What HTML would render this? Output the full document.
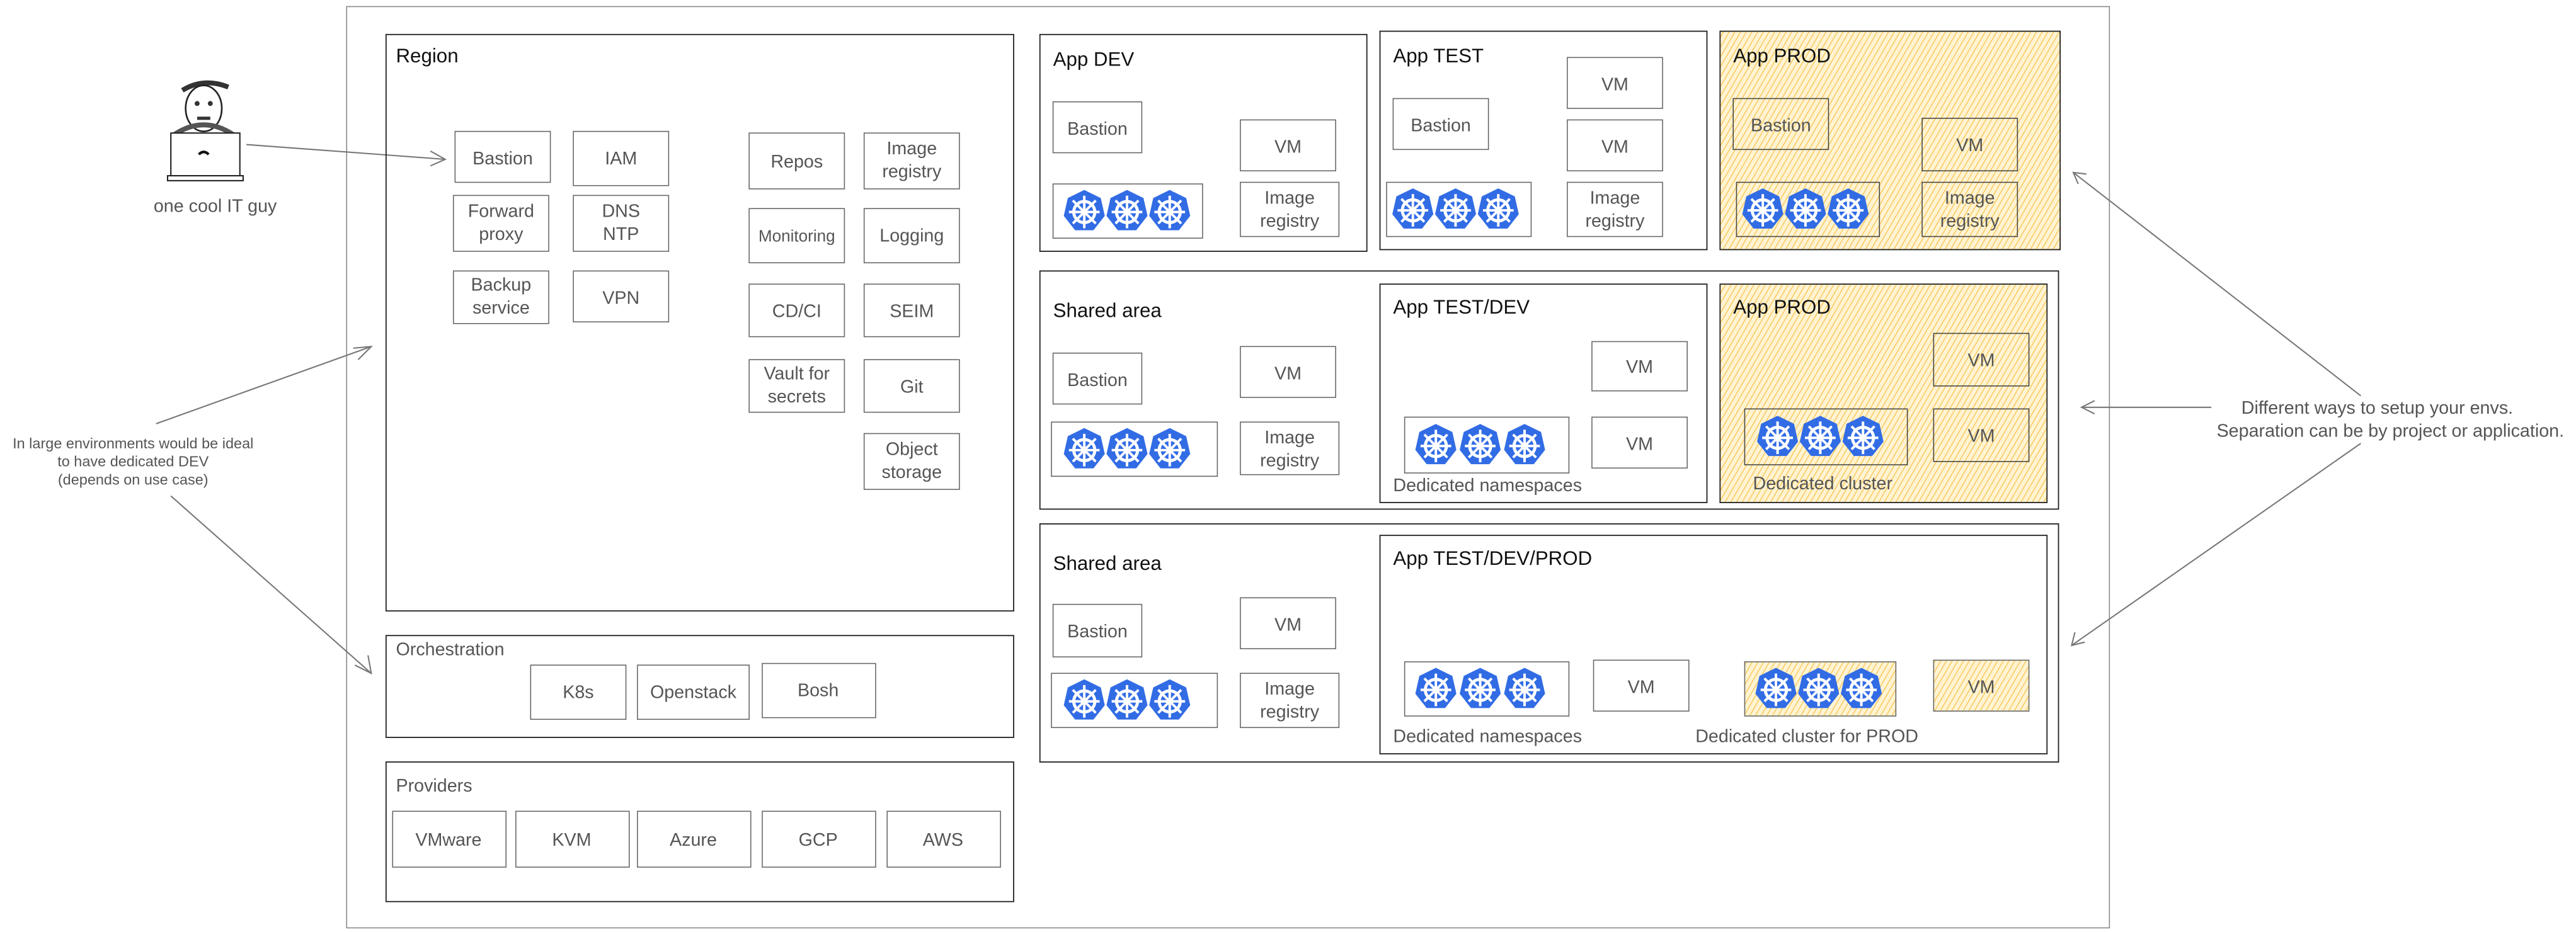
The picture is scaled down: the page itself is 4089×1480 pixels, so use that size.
<!DOCTYPE html>
<html><head><meta charset="utf-8"><style>
html,body{margin:0;padding:0;background:#fff;}
svg{display:block;}
text{font-family:"Liberation Sans",sans-serif;}
.b{fill:none;stroke:#666;stroke-width:0.6;}
.c{fill:none;stroke:#222;stroke-width:0.7;}
.l{fill:#555;font-size:11px;text-anchor:middle;}
.t{fill:#111;font-size:12px;}
.s{fill:#555;font-size:11px;}
.a{fill:none;stroke:#777;stroke-width:0.8;}
.y{fill:url(#h);}
</style></head><body>
<svg width="4089" height="1480" viewBox="0 0 1568 567.5" xmlns="http://www.w3.org/2000/svg">
<defs>
<pattern id="h" patternUnits="userSpaceOnUse" width="3" height="3" patternTransform="rotate(30)">
<rect width="3" height="3" fill="#fff3d2"/><line x1="0" y1="0" x2="0" y2="3" stroke="#f6c44c" stroke-width="1"/>
</pattern>
<symbol id="k" viewBox="0 0 24 24">
<polygon points="12,1 20.6,5.2 22.7,14.5 16.8,22 7.2,22 1.3,14.5 3.4,5.2" fill="#326ce5"/>
<circle cx="12" cy="12.5" r="5.5" fill="none" stroke="#fff" stroke-width="1.6"/>
<g stroke="#fff" stroke-width="1.3">
<line x1="12" y1="4" x2="12" y2="21"/><line x1="4" y1="12.5" x2="20" y2="12.5"/>
<line x1="6" y1="6.5" x2="18" y2="18.5"/><line x1="18" y1="6.5" x2="6" y2="18.5"/></g>
<circle cx="12" cy="12.5" r="1.8" fill="#fff"/>
</symbol>
</defs>

<rect x="211" y="4" width="1073" height="561" class="b" style="stroke:#888"/>

<!-- person -->
<path d="M111,55 q13,-8 28,-2" stroke="#333" stroke-width="3" fill="none"/>
<ellipse cx="124" cy="66" rx="11" ry="14" fill="#fff" stroke="#222" stroke-width="1"/>
<circle cx="120" cy="63" r="1.5" fill="#333"/><circle cx="128" cy="63" r="1.5" fill="#333"/>
<line x1="120" y1="72" x2="128" y2="72" stroke="#333" stroke-width="2"/>
<path d="M106,82 q18,-12 36,0" stroke="#555" stroke-width="3" fill="none"/>
<rect x="104" y="81" width="42" height="26" fill="#fff" stroke="#222" stroke-width="0.8"/>
<rect x="102" y="107" width="46" height="3" fill="#fff" stroke="#222" stroke-width="0.8"/>
<path d="M121,94 q3,-3 6,0" stroke="#111" stroke-width="1.6" fill="none"/>
<text x="131" y="129" class="l">one cool IT guy</text>
<line x1="150" y1="88" x2="271" y2="97" class="a"/><path d="M262,92 L271,97 L262,101" class="a"/>

<!-- left note -->
<text x="81" y="273" class="l" style="font-size:9px">In large environments would be ideal</text>
<text x="81" y="284" class="l" style="font-size:9px">to have dedicated DEV</text>
<text x="81" y="295" class="l" style="font-size:9px">(depends on use case)</text>
<line x1="95" y1="258" x2="226" y2="211" class="a"/><path d="M215,212 L226,211 L218,219" class="a"/>
<line x1="104" y1="302" x2="226" y2="410" class="a"/><path d="M224,399 L226,410 L216,405" class="a"/>

<!-- Region -->
<rect x="235" y="21" width="382" height="351" class="c"/>
<text x="241" y="38" class="t">Region</text>
<g>
<rect x="277" y="80" width="58" height="31" class="b"/><text x="306" y="100" class="l">Bastion</text>
<rect x="349" y="80" width="58" height="33" class="b"/><text x="378" y="100" class="l">IAM</text>
<rect x="276" y="119" width="58" height="34" class="b"/><text x="305" y="132" class="l">Forward</text><text x="305" y="146" class="l">proxy</text>
<rect x="349" y="119" width="58" height="34" class="b"/><text x="378" y="132" class="l">DNS</text><text x="378" y="146" class="l">NTP</text>
<rect x="276" y="165" width="58" height="32" class="b"/><text x="305" y="177" class="l">Backup</text><text x="305" y="191" class="l">service</text>
<rect x="349" y="165" width="58" height="31" class="b"/><text x="378" y="185" class="l">VPN</text>
<rect x="456" y="81" width="58" height="34" class="b"/><text x="485" y="102" class="l">Repos</text>
<rect x="526" y="81" width="58" height="34" class="b"/><text x="555" y="94" class="l">Image</text><text x="555" y="108" class="l">registry</text>
<rect x="456" y="127" width="58" height="33" class="b"/><text x="485" y="147" class="l" style="font-size:10px">Monitoring</text>
<rect x="526" y="127" width="58" height="33" class="b"/><text x="555" y="147" class="l">Logging</text>
<rect x="456" y="173" width="58" height="32" class="b"/><text x="485" y="193" class="l">CD/CI</text>
<rect x="526" y="173" width="58" height="32" class="b"/><text x="555" y="193" class="l">SEIM</text>
<rect x="456" y="219" width="58" height="32" class="b"/><text x="485" y="231" class="l">Vault for</text><text x="485" y="245" class="l">secrets</text>
<rect x="526" y="219" width="58" height="32" class="b"/><text x="555" y="239" class="l">Git</text>
<rect x="526" y="264" width="58" height="34" class="b"/><text x="555" y="277" class="l">Object</text><text x="555" y="291" class="l">storage</text>
</g>

<!-- Orchestration -->
<rect x="235" y="387" width="382" height="62" class="c"/>
<text x="241" y="399" class="s">Orchestration</text>
<rect x="323" y="405" width="58" height="33" class="b"/><text x="352" y="425" class="l">K8s</text>
<rect x="388" y="405" width="68" height="33" class="b"/><text x="422" y="425" class="l">Openstack</text>
<rect x="464" y="404" width="69" height="33" class="b"/><text x="498" y="424" class="l">Bosh</text>

<!-- Providers -->
<rect x="235" y="464" width="382" height="85" class="c"/>
<text x="241" y="482" class="s">Providers</text>
<rect x="239" y="494" width="69" height="34" class="b"/><text x="273" y="515" class="l">VMware</text>
<rect x="314" y="494" width="69" height="34" class="b"/><text x="348" y="515" class="l">KVM</text>
<rect x="388" y="494" width="69" height="34" class="b"/><text x="422" y="515" class="l">Azure</text>
<rect x="464" y="494" width="69" height="34" class="b"/><text x="498" y="515" class="l">GCP</text>
<rect x="540" y="494" width="69" height="34" class="b"/><text x="574" y="515" class="l">AWS</text>

<!-- Row 1 -->
<rect x="633" y="21" width="199" height="132" class="c"/>
<text x="641" y="40" class="t">App DEV</text>
<rect x="641" y="62" width="54" height="31" class="b"/><text x="668" y="82" class="l">Bastion</text>
<rect x="755" y="73" width="58" height="31" class="b"/><text x="784" y="93" class="l">VM</text>
<rect x="641" y="112" width="91" height="33" class="b"/>
<use href="#k" x="646" y="114" width="28" height="29"/><use href="#k" x="672" y="114" width="28" height="29"/><use href="#k" x="698" y="114" width="28" height="29"/>
<rect x="755" y="111" width="60" height="33" class="b"/><text x="785" y="124" class="l">Image</text><text x="785" y="138" class="l">registry</text>

<rect x="840" y="19" width="199" height="133" class="c"/>
<text x="848" y="38" class="t">App TEST</text>
<rect x="954" y="35" width="58" height="31" class="b"/><text x="983" y="55" class="l">VM</text>
<rect x="848" y="60" width="58" height="31" class="b"/><text x="877" y="80" class="l">Bastion</text>
<rect x="954" y="73" width="58" height="31" class="b"/><text x="983" y="93" class="l">VM</text>
<rect x="844" y="111" width="88" height="33" class="b"/>
<use href="#k" x="846" y="113" width="28" height="29"/><use href="#k" x="872" y="113" width="28" height="29"/><use href="#k" x="898" y="113" width="28" height="29"/>
<rect x="954" y="111" width="58" height="33" class="b"/><text x="983" y="124" class="l">Image</text><text x="983" y="138" class="l">registry</text>

<rect x="1047" y="19" width="207" height="133" class="c y"/>
<text x="1055" y="38" class="t">App PROD</text>
<rect x="1055" y="60" width="58" height="31" class="b" style="stroke:#444"/><text x="1084" y="80" class="l">Bastion</text>
<rect x="1170" y="72" width="58" height="32" class="b" style="stroke:#444"/><text x="1199" y="92" class="l">VM</text>
<rect x="1057" y="111" width="87" height="33" class="b" style="stroke:#444"/>
<use href="#k" x="1059" y="113" width="28" height="29"/><use href="#k" x="1085" y="113" width="28" height="29"/><use href="#k" x="1111" y="113" width="28" height="29"/>
<rect x="1170" y="111" width="58" height="33" class="b" style="stroke:#444"/><text x="1199" y="124" class="l">Image</text><text x="1199" y="138" class="l">registry</text>

<!-- Row 2 -->
<rect x="633" y="165" width="620" height="145" class="c"/>
<text x="641" y="193" class="t">Shared area</text>
<rect x="641" y="215" width="54" height="31" class="b"/><text x="668" y="235" class="l">Bastion</text>
<rect x="755" y="211" width="58" height="31" class="b"/><text x="784" y="231" class="l">VM</text>
<rect x="640" y="257" width="101" height="33" class="b"/>
<use href="#k" x="646" y="259" width="28" height="29"/><use href="#k" x="672" y="259" width="28" height="29"/><use href="#k" x="698" y="259" width="28" height="29"/>
<rect x="755" y="257" width="60" height="32" class="b"/><text x="785" y="270" class="l">Image</text><text x="785" y="284" class="l">registry</text>

<rect x="840" y="173" width="199" height="133" class="c"/>
<text x="848" y="191" class="t">App TEST/DEV</text>
<rect x="969" y="208" width="58" height="30" class="b"/><text x="998" y="227" class="l">VM</text>
<rect x="855" y="254" width="100" height="34" class="b"/>
<use href="#k" x="860" y="256" width="28" height="30"/><use href="#k" x="887" y="256" width="28" height="30"/><use href="#k" x="914" y="256" width="28" height="30"/>
<rect x="969" y="254" width="58" height="31" class="b"/><text x="998" y="274" class="l">VM</text>
<text x="848" y="299" class="s">Dedicated namespaces</text>

<rect x="1047" y="173" width="199" height="133" class="c y"/>
<text x="1055" y="191" class="t">App PROD</text>
<rect x="1177" y="203" width="58" height="32" class="b" style="stroke:#444"/><text x="1206" y="223" class="l">VM</text>
<rect x="1062" y="249" width="99" height="34" class="b" style="stroke:#444"/>
<use href="#k" x="1068" y="251" width="28" height="30"/><use href="#k" x="1094" y="251" width="28" height="30"/><use href="#k" x="1120" y="251" width="28" height="30"/>
<rect x="1177" y="249" width="58" height="32" class="b" style="stroke:#444"/><text x="1206" y="269" class="l">VM</text>
<text x="1067" y="298" class="s">Dedicated cluster</text>

<!-- Row 3 -->
<rect x="633" y="319" width="620" height="145" class="c"/>
<text x="641" y="347" class="t">Shared area</text>
<rect x="641" y="368" width="54" height="32" class="b"/><text x="668" y="388" class="l">Bastion</text>
<rect x="755" y="364" width="58" height="31" class="b"/><text x="784" y="384" class="l">VM</text>
<rect x="640" y="410" width="101" height="33" class="b"/>
<use href="#k" x="646" y="412" width="28" height="29"/><use href="#k" x="672" y="412" width="28" height="29"/><use href="#k" x="698" y="412" width="28" height="29"/>
<rect x="755" y="410" width="60" height="33" class="b"/><text x="785" y="423" class="l">Image</text><text x="785" y="437" class="l">registry</text>

<rect x="840" y="326" width="406" height="133" class="c"/>
<text x="848" y="344" class="t">App TEST/DEV/PROD</text>
<rect x="855" y="403" width="100" height="33" class="b"/>
<use href="#k" x="860" y="405" width="28" height="29"/><use href="#k" x="887" y="405" width="28" height="29"/><use href="#k" x="914" y="405" width="28" height="29"/>
<rect x="970" y="402" width="58" height="31" class="b"/><text x="999" y="422" class="l">VM</text>
<rect x="1062" y="403" width="92" height="33" class="b y"/>
<use href="#k" x="1067" y="405" width="28" height="29"/><use href="#k" x="1093" y="405" width="28" height="29"/><use href="#k" x="1119" y="405" width="28" height="29"/>
<rect x="1177" y="402" width="58" height="31" class="b y"/><text x="1206" y="422" class="l">VM</text>
<text x="848" y="452" class="s">Dedicated namespaces</text>
<text x="1032" y="452" class="s">Dedicated cluster for PROD</text>

<!-- right note -->
<text x="1447" y="252" class="l" style="font-size:11px">Different ways to setup your envs.</text>
<text x="1455" y="266" class="l" style="font-size:11px">Separation can be by project or application.</text>
<line x1="1437" y1="241" x2="1262" y2="105" class="a"/><path d="M1270,106 L1262,105 L1265,112" class="a"/>
<line x1="1346" y1="248" x2="1267" y2="248" class="a"/><path d="M1275,244 L1267,248 L1275,252" class="a"/>
<line x1="1437" y1="270" x2="1261" y2="393" class="a"/><path d="M1263,385 L1261,393 L1269,391" class="a"/>
</svg>
</body></html>
